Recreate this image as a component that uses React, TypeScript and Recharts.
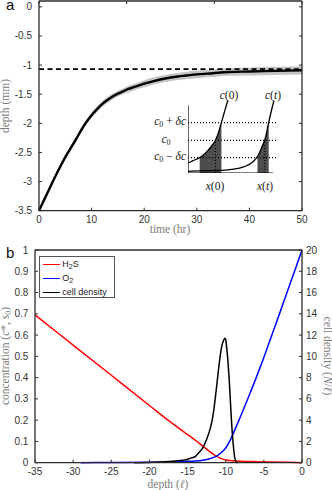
import React from 'react';
import { ComposedChart, Line, Area, XAxis, YAxis, ReferenceLine } from 'recharts';

// ---------------- Panel a data ----------------
const timeHr = [0, 1, 2, 3, 4, 5, 6, 7, 8, 9, 10, 11, 12, 13, 14, 15, 16, 17, 18, 19, 20, 22, 24, 26, 28, 30, 33, 36, 40, 45, 50];
const depthMm = [-3.5, -3.31, -3.12, -2.93, -2.75, -2.58, -2.43, -2.28, -2.12, -1.98, -1.86, -1.76, -1.67, -1.6, -1.54, -1.49, -1.45, -1.41, -1.38, -1.35, -1.32, -1.27, -1.23, -1.2, -1.18, -1.16, -1.14, -1.12, -1.11, -1.1, -1.09];
const depthSpread = [0, 0.01, 0.02, 0.03, 0.035, 0.04, 0.045, 0.045, 0.045, 0.045, 0.045, 0.05, 0.05, 0.05, 0.05, 0.05, 0.05, 0.055, 0.055, 0.055, 0.06, 0.06, 0.06, 0.06, 0.065, 0.065, 0.065, 0.065, 0.07, 0.07, 0.07];
const steadyDepth = -1.07;
const aXTicks = [0, 10, 20, 30, 40, 50];
const aYTicks = [-3.5, -3, -2.5, -2, -1.5, -1, -0.5, 0];
const aYDomain = [-3.5, 0.1];

// ---------------- Inset (schematic) data ----------------
const c0U = [0, 5, 11.7, 16, 20, 24, 27.4, 30, 33.4, 36, 38, 40];
const c0V = [10, 12.3, 15.4, 18.6, 22.5, 27.5, 32.7, 39, 50.4, 59.5, 66.5, 72.7];
const ctU = [0, 20, 40, 50, 58, 63, 66.5, 69.5, 72, 74.5, 76.7, 78.7, 80.7, 82.5, 84.3, 86];
const ctV = [1.7, 2.3, 3.2, 4.6, 7, 9.8, 12.8, 16.5, 21.5, 27.5, 32.7, 40.5, 50.4, 58.5, 66, 72.7];
const c0FillRange = [11.7, 33.4];
const ctFillRange = [69.5, 80.7];
const levelLow = 15.4;
const levelMid = 32.7;
const levelHigh = 50.4;
const levelSpan = [0, 90];
const markerU = [27.4, 76.7];
const insetAxisXEnd = 85;
const insetAxisYEnd = 67.7;

// ---------------- Panel b data ----------------
const h2sDepth = [-35, -30, -25, -20, -17.3, -15, -14, -13, -12.5, -12, -11.5, -11, -10.5, -10, -9.5, -9, -8, -6, -4, -2, 0];
const h2sValue = [0.695, 0.553, 0.411, 0.269, 0.193, 0.132, 0.106, 0.078, 0.064, 0.05, 0.037, 0.026, 0.018, 0.013, 0.01, 0.009, 0.007, 0.005, 0.0035, 0.002, 0];
const o2Depth = [-29, -25, -20, -17, -15, -14, -13, -12, -11.5, -11, -10.5, -10, -9.5, -9, -8.5, -8, -7, -6, -5, -4, -3, -2, -1, 0];
const o2Value = [0, 0.001, 0.002, 0.004, 0.006, 0.008, 0.012, 0.02, 0.026, 0.036, 0.05, 0.069, 0.099, 0.138, 0.18, 0.222, 0.31, 0.4, 0.495, 0.595, 0.695, 0.797, 0.898, 1.0];
const cellDepth = [-22, -20, -18, -17, -16, -15, -14.5, -14, -13.5, -13, -12.5, -12, -11.75, -11.5, -11.25, -11, -10.75, -10.5, -10.25, -10.1, -10, -9.9, -9.75, -9.5, -9.25, -9, -8.8, -8.6, -8.4];
const cellValue = [0, 0.03, 0.08, 0.13, 0.2, 0.33, 0.45, 0.58, 0.95, 1.4, 2.2, 3.3, 4.1, 5.3, 6.8, 8.4, 9.9, 11.0, 11.55, 11.7, 11.6, 11.0, 9.9, 7.3, 4.0, 1.6, 0.4, 0.05, 0];
const bXTicks = [-35, -30, -25, -20, -15, -10, -5, 0];
const bLeftTicks = [0, 0.1, 0.2, 0.3, 0.4, 0.5, 0.6, 0.7, 0.8, 0.9, 1];
const bRightTicks = [0, 2, 4, 6, 8, 10, 12, 14, 16, 18, 20];

// ---------------- Built tables ----------------
const panelAData = timeHr.map((t, i) => ({
  t,
  depth: depthMm[i],
  band: [depthMm[i] - depthSpread[i], depthMm[i] + depthSpread[i]],
}));
const toUV = (us: number[], vs: number[]) => us.map((u, i) => ({ u, v: vs[i] }));
const c0Data = toUV(c0U, c0V);
const ctData = toUV(ctU, ctV);
const c0Fill = c0Data.filter((p) => p.u >= c0FillRange[0] && p.u <= c0FillRange[1]);
const ctFill = ctData.filter((p) => p.u >= ctFillRange[0] && p.u <= ctFillRange[1]);
const levelLines = [levelLow, levelMid, levelHigh].map((lv) => [
  { u: levelSpan[0], v: lv },
  { u: levelSpan[1], v: lv },
]);
const markerLines = markerU.map((u) => [
  { u, v: 0 },
  { u, v: levelMid },
]);
const insetXAxisLine = [{ u: 0, v: 0 }, { u: insetAxisXEnd, v: 0 }];
const insetYAxisLine = [{ u: 0, v: 0 }, { u: 0, v: insetAxisYEnd }];

const mk = (xs: number[], ys: number[]) => xs.map((x, i) => ({ x, y: ys[i] }));
const h2sData = mk(h2sDepth, h2sValue);
const o2Data = mk(o2Depth, o2Value);
const cellData = mk(cellDepth, cellValue);

// ---------------- Styles ----------------
const SANS = '"Liberation Sans", Arial, Helvetica, sans-serif';
const SERIF = '"Liberation Serif", "Times New Roman", serif';
const AXIS_COLOR = '#2b2b2b';
const TICK_TEXT = '#333';
const TITLE_COLOR = '#7a7a7a';
const TL = 3;

const fmt = (v: number) => String(v);

const BottomTick = (props: any) => {
  const { x, y, payload } = props;
  return (
    <g>
      <line x1={x} x2={x} y1={y} y2={y - TL} stroke={AXIS_COLOR} strokeWidth={1} />
      <text x={x} y={y + 9} textAnchor="middle" dominantBaseline="central" fontFamily={SANS} fontSize={10} fill={TICK_TEXT}>
        {fmt(payload.value)}
      </text>
    </g>
  );
};
const TopTick = (props: any) => {
  const { x, y } = props;
  return <line x1={x} x2={x} y1={y} y2={y + TL} stroke={AXIS_COLOR} strokeWidth={1} />;
};
const makeLeftTick = (gap: number) => (props: any) => {
  const { x, y, payload } = props;
  return (
    <g>
      <line x1={x} x2={x + TL} y1={y} y2={y} stroke={AXIS_COLOR} strokeWidth={1} />
      <text x={x - gap} y={y} textAnchor="end" dominantBaseline="central" fontFamily={SANS} fontSize={10} fill={TICK_TEXT}>
        {fmt(payload.value)}
      </text>
    </g>
  );
};
const RightMirrorTick = (props: any) => {
  const { x, y } = props;
  return <line x1={x} x2={x - TL} y1={y} y2={y} stroke={AXIS_COLOR} strokeWidth={1} />;
};
const RightLabelTick = (props: any) => {
  const { x, y, payload } = props;
  return (
    <g>
      <line x1={x} x2={x - TL} y1={y} y2={y} stroke={AXIS_COLOR} strokeWidth={1} />
      <text x={x + 4} y={y} textAnchor="start" dominantBaseline="central" fontFamily={SANS} fontSize={10} fill={TICK_TEXT}>
        {fmt(payload.value)}
      </text>
    </g>
  );
};

const axisLine = { stroke: AXIS_COLOR, strokeWidth: 1.3 };

const Title = ({ x, y, rotate = 0, children, size = 11.5, color = TITLE_COLOR, family = SERIF }: any) => (
  <div
    style={{
      position: 'absolute',
      left: x,
      top: y,
      transform: `translate(-50%, -50%) rotate(${rotate}deg)`,
      whiteSpace: 'nowrap',
      fontFamily: family,
      fontSize: size,
      color,
      lineHeight: 1,
    }}
  >
    {children}
  </div>
);

const MathLabel = ({ x, y, anchor = 'center', children }: any) => (
  <div
    style={{
      position: 'absolute',
      left: x,
      top: y,
      transform: anchor === 'right' ? 'translate(-100%, -50%)' : 'translate(-50%, -50%)',
      whiteSpace: 'nowrap',
      fontFamily: SERIF,
      fontSize: 11.5,
      color: '#1a1a1a',
      lineHeight: 1,
    }}
  >
    {children}
  </div>
);

const I = ({ children }: any) => <span style={{ fontStyle: 'italic' }}>{children}</span>;
const Sub = ({ children, size = 8 }: any) => (
  <span style={{ fontSize: size, position: 'relative', top: 2 }}>{children}</span>
);

const legendItems = [
  { key: 'h2s', color: '#ff0000', label: <>H<Sub size={7}>2</Sub>S</> },
  { key: 'o2', color: '#0000ff', label: <>O<Sub size={7}>2</Sub></> },
  { key: 'cells', color: '#000000', label: <>cell density</> },
];

const axisCommon = { tickSize: 0, tickMargin: 0, tickLine: false, axisLine, interval: 0 as const };

export default function App() {
  return (
    <div style={{ position: 'absolute', left: 0, top: 0, width: 332, height: 490, background: '#fff', overflow: 'hidden' }}>
      {/* ---------- Panel a ---------- */}
      <div style={{ position: 'absolute', left: 0, top: 0 }}>
        <ComposedChart width={332} height={240} data={panelAData} margin={{ top: 0, right: 29, bottom: 28.3, left: 38 }}>
          <XAxis dataKey="t" type="number" domain={[0, 50]} ticks={aXTicks} height={1} {...axisCommon} tick={<BottomTick />} />
          <XAxis xAxisId="top" orientation="top" type="number" domain={[0, 50]} ticks={aXTicks} height={1} {...axisCommon} tick={<TopTick />} />
          <YAxis type="number" domain={aYDomain} ticks={aYTicks} width={1} {...axisCommon} tick={makeLeftTick(7)} allowDataOverflow />
          <YAxis yAxisId="mirror" orientation="right" type="number" domain={aYDomain} ticks={aYTicks} width={1} {...axisCommon} tick={<RightMirrorTick />} allowDataOverflow />
          <Area dataKey="band" type="monotone" stroke="none" fill="#c4c4c4" fillOpacity={1} isAnimationActive={false} />
          <ReferenceLine y={steadyDepth} stroke="#000" strokeWidth={1.6} strokeDasharray="5 3.5" />
          <Line dataKey="depth" type="monotone" stroke="#000" strokeWidth={2.4} dot={false} isAnimationActive={false} />
        </ComposedChart>
      </div>

      {/* ---------- Inset schematic ---------- */}
      <div style={{ position: 'absolute', left: 188.3, top: 97.7 }}>
        <ComposedChart width={95} height={75} margin={{ top: 0, right: 0, bottom: 0, left: 0 }}>
          <XAxis dataKey="u" type="number" domain={[0, 95]} hide height={0} />
          <YAxis dataKey="v" type="number" domain={[0, 75]} hide width={0} />
          <Area data={c0Fill} dataKey="v" type="monotone" stroke="none" fill="#4d4d4d" fillOpacity={1} isAnimationActive={false} />
          <Area data={ctFill} dataKey="v" type="monotone" stroke="none" fill="#4d4d4d" fillOpacity={1} isAnimationActive={false} />
          {levelLines.map((d, i) => (
            <Line key={'lv' + i} data={d} dataKey="v" type="linear" stroke="#000" strokeWidth={1.2} strokeDasharray="1 2" dot={false} isAnimationActive={false} />
          ))}
          {markerLines.map((d, i) => (
            <Line key={'mk' + i} data={d} dataKey="v" type="linear" stroke="#000" strokeWidth={1.2} strokeDasharray="1 2" dot={false} isAnimationActive={false} />
          ))}
          <Line data={insetXAxisLine} dataKey="v" type="linear" stroke="#000" strokeWidth={1.2} dot={false} isAnimationActive={false} />
          <Line data={insetYAxisLine} dataKey="v" type="linear" stroke="#000" strokeWidth={1.2} dot={false} isAnimationActive={false} />
          <Line data={c0Data} dataKey="v" type="monotone" stroke="#000" strokeWidth={1.3} dot={false} isAnimationActive={false} />
          <Line data={ctData} dataKey="v" type="monotone" stroke="#000" strokeWidth={1.3} dot={false} isAnimationActive={false} />
        </ComposedChart>
      </div>
      <MathLabel x={229} y={95.5}><I>c</I>(0)</MathLabel>
      <MathLabel x={273} y={95.5}><I>c</I>(<I>t</I>)</MathLabel>
      <MathLabel x={186} y={122.3} anchor="right"><I>c</I><Sub>0</Sub> + <I>δc</I></MathLabel>
      <MathLabel x={166} y={140}><I>c</I><Sub>0</Sub></MathLabel>
      <MathLabel x={186} y={157.3} anchor="right"><I>c</I><Sub>0</Sub> − <I>δc</I></MathLabel>
      <MathLabel x={215} y={187}><I>x</I>(0)</MathLabel>
      <MathLabel x={265} y={187}><I>x</I>(<I>t</I>)</MathLabel>

      {/* Panel a titles */}
      <Title x={170} y={230}>time (hr)</Title>
      <Title x={5.5} y={106} rotate={-90}>depth (mm)</Title>
      <div style={{ position: 'absolute', left: 6, top: -3.5, fontFamily: SANS, fontSize: 15, color: '#111', lineHeight: 1 }}>a</div>

      {/* ---------- Panel b ---------- */}
      <div style={{ position: 'absolute', left: 0, top: 240 }}>
        <ComposedChart width={332} height={250} margin={{ top: 9, right: 29, bottom: 26.3, left: 34 }}>
          <XAxis dataKey="x" type="number" domain={[-35, 0]} ticks={bXTicks} height={1} {...axisCommon} tick={<BottomTick />} />
          <XAxis xAxisId="top" orientation="top" type="number" domain={[-35, 0]} ticks={bXTicks} height={1} {...axisCommon} tick={<TopTick />} />
          <YAxis yAxisId="left" type="number" domain={[0, 1]} ticks={bLeftTicks} width={1} {...axisCommon} tick={makeLeftTick(6.7)} />
          <YAxis yAxisId="right" orientation="right" type="number" domain={[0, 20]} ticks={bRightTicks} width={1} {...axisCommon} tick={<RightLabelTick />} />
          <Line yAxisId="left" data={h2sData} dataKey="y" type="monotone" stroke="#ff0000" strokeWidth={1.5} dot={false} isAnimationActive={false} />
          <Line yAxisId="left" data={o2Data} dataKey="y" type="monotone" stroke="#0000ff" strokeWidth={1.5} dot={false} isAnimationActive={false} />
          <Line yAxisId="right" data={cellData} dataKey="y" type="monotone" stroke="#000000" strokeWidth={1.5} dot={false} isAnimationActive={false} />
        </ComposedChart>
      </div>

      {/* Legend */}
      <div style={{ position: 'absolute', left: 39, top: 256, width: 76, height: 42, border: '1px solid #555', background: '#fff', boxSizing: 'border-box' }}>
        {legendItems.map((it, i) => (
          <div key={it.key} style={{ position: 'absolute', left: 3.3, top: 1.8 + i * 14, height: 11, display: 'flex', alignItems: 'center' }}>
            <span style={{ display: 'inline-block', width: 17, height: 0, borderTop: `1.5px solid ${it.color}` }} />
            <span style={{ marginLeft: 2, fontFamily: SANS, fontSize: 9, color: '#222', lineHeight: 1 }}>{it.label}</span>
          </div>
        ))}
      </div>

      {/* Panel b titles */}
      <Title x={168} y={485}>depth (<I>ℓ</I>)</Title>
      <Title x={5.5} y={356} rotate={-90}>concentration (<I>c</I>*, <I>s</I><Sub>0</Sub>)</Title>
      <Title x={326.5} y={356} rotate={90}>cell density (<I>N</I>/<I>ℓ</I>)</Title>
      <div style={{ position: 'absolute', left: 6, top: 245, fontFamily: SANS, fontSize: 15, color: '#111', lineHeight: 1 }}>b</div>
    </div>
  );
}
